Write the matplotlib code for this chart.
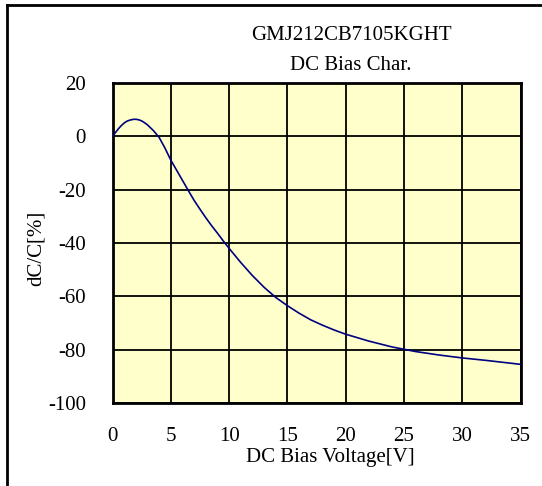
import matplotlib.pyplot as plt
from matplotlib.lines import Line2D

# DC bias characteristic
voltage = [0, 0.25, 0.5, 0.75, 1, 1.25, 1.5, 1.75, 2, 2.25, 2.5, 2.75, 3,
           3.5, 4, 4.5, 5, 5.5, 6, 6.5, 7, 7.5, 8, 8.5, 9, 9.5, 10, 11, 12,
           13, 14, 15, 16, 17, 18, 19, 20, 22, 24, 26, 28, 30, 32, 35]
dcc = [0, 1.4, 2.8, 4.0, 5.0, 5.7, 6.1, 6.35, 6.4, 6.2, 5.8, 5.1, 4.3,
       2.2, -0.4, -4.4, -8.9, -12.7, -16.5, -20.3, -24, -27.3, -30.5,
       -33.5, -36.3, -39.2, -42, -47.3, -52.2, -56.6, -60.4, -63.5, -66.3,
       -68.8, -70.8, -72.6, -74.2, -76.8, -79.0, -80.7, -82.0, -83.1, -84.0,
       -85.5]

xticks = [0, 5, 10, 15, 20, 25, 30, 35]
yticks = [20, 0, -20, -40, -60, -80, -100]
title_lines = ['GMJ212CB7105KGHT', 'DC Bias Char.']

plt.rcParams['font.family'] = ['Liberation Serif', 'DejaVu Serif']
plt.rcParams['axes.unicode_minus'] = False
fs = 15

W, H = 542, 486
fig = plt.figure(figsize=(W / 100, H / 100), dpi=100)
ax = fig.add_axes([112.5 / W, 1 - 403 / H, 408 / W, 320 / H])
ax.set_facecolor('#ffffcc')

ax.plot(voltage, dcc, color='#000080', lw=1.2, zorder=3)

ax.set_xlim(0, 35)
ax.set_ylim(-100, 20)
ax.set_xticks(xticks)
ax.set_yticks(yticks)
ax.set_yticklabels([str(v) for v in yticks])
ax.grid(True, color='black', lw=1.3)
ax.set_axisbelow(True)
ax.tick_params(length=0, labelsize=fs)
ax.tick_params(axis='x', pad=17)
ax.tick_params(axis='y', pad=19)
for s in ax.spines.values():
    s.set_linewidth(2.0)

# titles and axis labels sit slightly right of the axes centre
fig.text(351 / W, 1 - 36 / H, title_lines[0], ha='center', va='center', fontsize=fs)
fig.text(351 / W, 1 - 65 / H, title_lines[1], ha='center', va='center', fontsize=fs)
fig.text(330 / W, 1 - 457 / H, 'DC Bias Voltage[V]', ha='center', va='center', fontsize=fs)
fig.text(36 / W, 1 - 248 / H, 'dC/C[%]', ha='center', va='center', rotation=90, fontsize=fs)

# outer frame, only top and left edges show
fig.add_artist(Line2D([6.5 / W, 1], [1 - 5.5 / H, 1 - 5.5 / H], color='black', lw=2))
fig.add_artist(Line2D([6.5 / W, 6.5 / W], [0, 1 - 5.5 / H], color='black', lw=2))

fig.savefig('out.png', dpi=100)
